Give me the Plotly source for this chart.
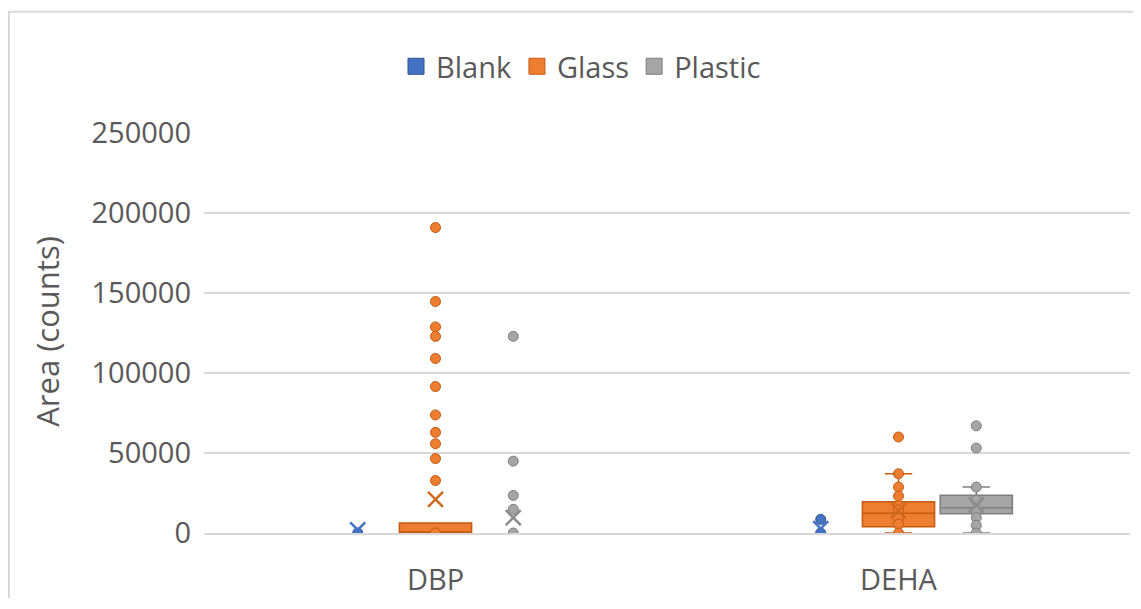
import plotly.graph_objects as go

# ---------------- data ----------------
categories = ["DBP", "DEHA"]
series = ["Blank", "Glass", "Plastic"]

blank_q1 = [0, 0]
blank_median = [0, 0]
blank_q3 = [0, 0]
blank_lower = [0, 0]
blank_upper = [0, 0]
blank_mean = [2000, 2800]
blank_points_dbp = [0]
blank_points_deha = [0, 8500]

glass_q1 = [0, 3900]
glass_median = [0, 12400]
glass_q3 = [6200, 19500]
glass_lower = [0, 0]
glass_upper = [6200, 37000]
glass_mean = [21000, 14000]
glass_points_dbp = [190900, 144700, 128800, 122900, 109100, 91500, 73800,
                    62900, 55800, 46500, 32800, 0]
glass_points_deha = [60000, 37000, 28700, 23100, 17000, 14500, 9000, 5500, 0]

plastic_q1 = [0, 12100]
plastic_median = [0, 15800]
plastic_q3 = [0, 23600]
plastic_lower = [0, 0]
plastic_upper = [0, 28700]
plastic_mean = [9600, 17500]
plastic_points_dbp = [122900, 44900, 23500, 14800, 0]
plastic_points_deha = [67000, 53100, 28700, 20500, 14000, 9600, 4800, 0]

y_ticks = [0, 50000, 100000, 150000, 200000, 250000]

# ---------------- styling ----------------
FONT = "Open Sans"
FS = 29
TXT = "#595959"
GRID = "#D9D9D9"
fill = {"Blank": "#4472C4", "Glass": "#ED7D31", "Plastic": "#A5A5A5"}
edge = {"Blank": "#2F528F", "Glass": "#C55A11", "Plastic": "#7F7F7F"}
xcol = {"Blank": "#4472C4", "Glass": "#D2691E", "Plastic": "#8C8C8C"}
offset = {"Blank": -0.168, "Glass": 0.0, "Plastic": 0.168}
BOX_W = 0.156

stats = {
    "Blank": (blank_q1, blank_median, blank_q3, blank_lower, blank_upper, blank_mean,
              [blank_points_dbp, blank_points_deha]),
    "Glass": (glass_q1, glass_median, glass_q3, glass_lower, glass_upper, glass_mean,
              [glass_points_dbp, glass_points_deha]),
    "Plastic": (plastic_q1, plastic_median, plastic_q3, plastic_lower, plastic_upper,
                plastic_mean, [plastic_points_dbp, plastic_points_deha]),
}

fig = go.Figure()

for s in series:
    q1, med, q3, lo, up, mean, pts = stats[s]
    # boxes only where the data have a spread
    idx = [i for i in range(len(categories)) if up[i] > lo[i]]
    if idx:
        fig.add_trace(go.Box(
            x=[i + offset[s] for i in idx],
            q1=[q1[i] for i in idx], median=[med[i] for i in idx], q3=[q3[i] for i in idx],
            lowerfence=[lo[i] for i in idx], upperfence=[up[i] for i in idx],
            width=BOX_W, whiskerwidth=0.38,
            fillcolor=fill[s], line=dict(color=edge[s], width=1.5),
            boxpoints=False, showlegend=False, hoverinfo="skip",
        ))
    # all points (inner + outliers)
    px, py = [], []
    for i, p in enumerate(pts):
        px += [i + offset[s]] * len(p)
        py += p
    fig.add_trace(go.Scatter(
        x=px, y=py, mode="markers", showlegend=False,
        marker=dict(symbol="circle", size=10, color=fill[s],
                    line=dict(color=edge[s], width=1)),
    ))
    # mean markers
    fig.add_trace(go.Scatter(
        x=[i + offset[s] for i in range(len(categories))], y=mean,
        mode="markers", showlegend=False,
        marker=dict(symbol="x-thin-open", size=15, color=xcol[s],
                    line=dict(color=xcol[s], width=2.5)),
    ))
    # legend entry
    fig.add_trace(go.Scatter(
        x=[None], y=[None], mode="markers", name=s,
        marker=dict(symbol="square", size=20, color=fill[s],
                    line=dict(color=edge[s], width=1)),
    ))

# page pixel -> paper helpers (the page body has an 8 px margin)
OFF = 8
W, H = 1125, 593
L, R, T, B = 204 - OFF, 1130 - OFF, 133 - OFF, 535.5 - OFF
def xp(px):
    return (px - OFF - L) / (R - L)
def yp(py):
    return (B - (py - OFF)) / (B - T)

fig.update_layout(
    width=W, height=H,
    margin=dict(l=L, r=W - R, t=T, b=H - B),
    paper_bgcolor="white", plot_bgcolor="white",
    font=dict(family=FONT, size=FS, color=TXT),
    showlegend=True,
    legend=dict(orientation="h", x=xp(581), xanchor="center", y=yp(66), yanchor="middle",
                font=dict(size=FS, color=TXT), itemwidth=30, traceorder="normal",
                bgcolor="rgba(0,0,0,0)"),
    xaxis=dict(range=[-0.5, 1.5], tickmode="array", tickvals=list(range(len(categories))),
               ticktext=categories, showgrid=False, zeroline=False, showline=True,
               linecolor=GRID, linewidth=1.5, ticks="", ticklabelstandoff=20,
               tickfont=dict(size=FS, color=TXT)),
    yaxis=dict(range=[0, 250000], tickmode="array", tickvals=y_ticks,
               ticktext=[str(v) for v in y_ticks], showgrid=True, gridcolor=GRID,
               gridwidth=1.5, zeroline=False, showline=False, ticks="",
               ticklabelstandoff=12, tickfont=dict(size=FS, color=TXT)),
    annotations=[dict(text="Area (counts)", textangle=-90, xref="paper", yref="paper",
                      x=xp(47), y=yp(333), xanchor="center", yanchor="middle",
                      showarrow=False, font=dict(size=31, color=TXT))],
    shapes=[
        dict(type="line", xref="paper", yref="paper", x0=xp(8), x1=xp(1141), y0=yp(11), y1=yp(11),
             line=dict(color=GRID, width=2)),
        dict(type="line", xref="paper", yref="paper", x0=xp(9), x1=xp(9), y0=yp(11), y1=yp(601),
             line=dict(color=GRID, width=2)),
    ],
)

fig.write_html("out.html")
